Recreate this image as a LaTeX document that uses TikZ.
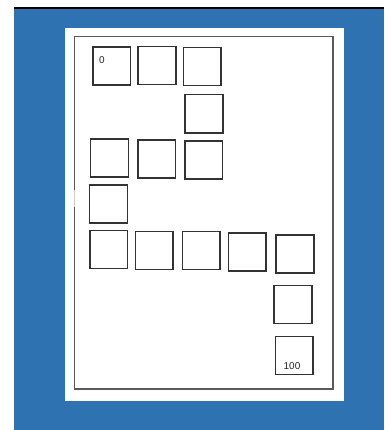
\documentclass[tikz,border=0pt]{standalone}
\usepackage{fontspec}
\setsansfont{Liberation Sans}
\usetikzlibrary{positioning}
\definecolor{slideblue}{RGB}{46,114,178}
\definecolor{framegray}{RGB}{90,90,90}
\tikzset{
  cell/.style={draw=black!80, line width=1.2pt, minimum width=1.13cm, minimum height=1.14cm, inner sep=0pt},
  num/.style={font=\sffamily\fontsize{8.5}{10}\selectfont, text=black!85, inner sep=0pt}
}

\begin{document}
\begin{tikzpicture}[x=0.03cm, y=-0.03cm]
    \useasboundingbox (0,0) rectangle (384,430);

    % Fondo e foglio
    \fill[black] (14,6.7) rectangle (384,8.7);
    \fill[slideblue] (14,8.7) rectangle (384,430);
    \fill[white] (65,28) rectangle (344,401);
    \draw[framegray, line width=1.3pt] (74.7,190) -- (74.7,36.5) -- (333,36.5) -- (333,389) -- (74.7,389) -- (74.7,207);
    \draw[black!20, line width=1pt] (74.7,190) -- (74.7,207);

    % Prima riga
    \node[cell] (b1) at (111.9,66.2) {};
    \node[cell] (b2) at (157,65.5) {};
    \node[cell] (b3) at (202.2,66.3) {};
    \node[cell] (b4) at (204,113.8) {};

    % Seconda riga
    \node[cell] (b5) at (109.5,158.2) {};
    \node[cell] (b6) at (156.8,158.8) {};
    \node[cell] (b7) at (203.8,160) {};
    \node[cell] (b8) at (108.5,204) {};

    % Riga lunga e colonna finale
    \node[cell] (b9) at (108.7,249.7) {};
    \node[cell] (b10) at (154.2,250.7) {};
    \node[cell] (b11) at (201.2,250.5) {};
    \node[cell] (b12) at (247.3,252) {};
    \node[cell] (b13) at (295,253.8) {};
    \node[cell] (b14) at (293,304.7) {};
    \node[cell] (b15) at (294.2,355.7) {};

    % Etichette
    \node[num] (start) at (102,60) {0};
    \node[num] (finish) at (292,366.5) {100};
\end{tikzpicture}
\end{document}
